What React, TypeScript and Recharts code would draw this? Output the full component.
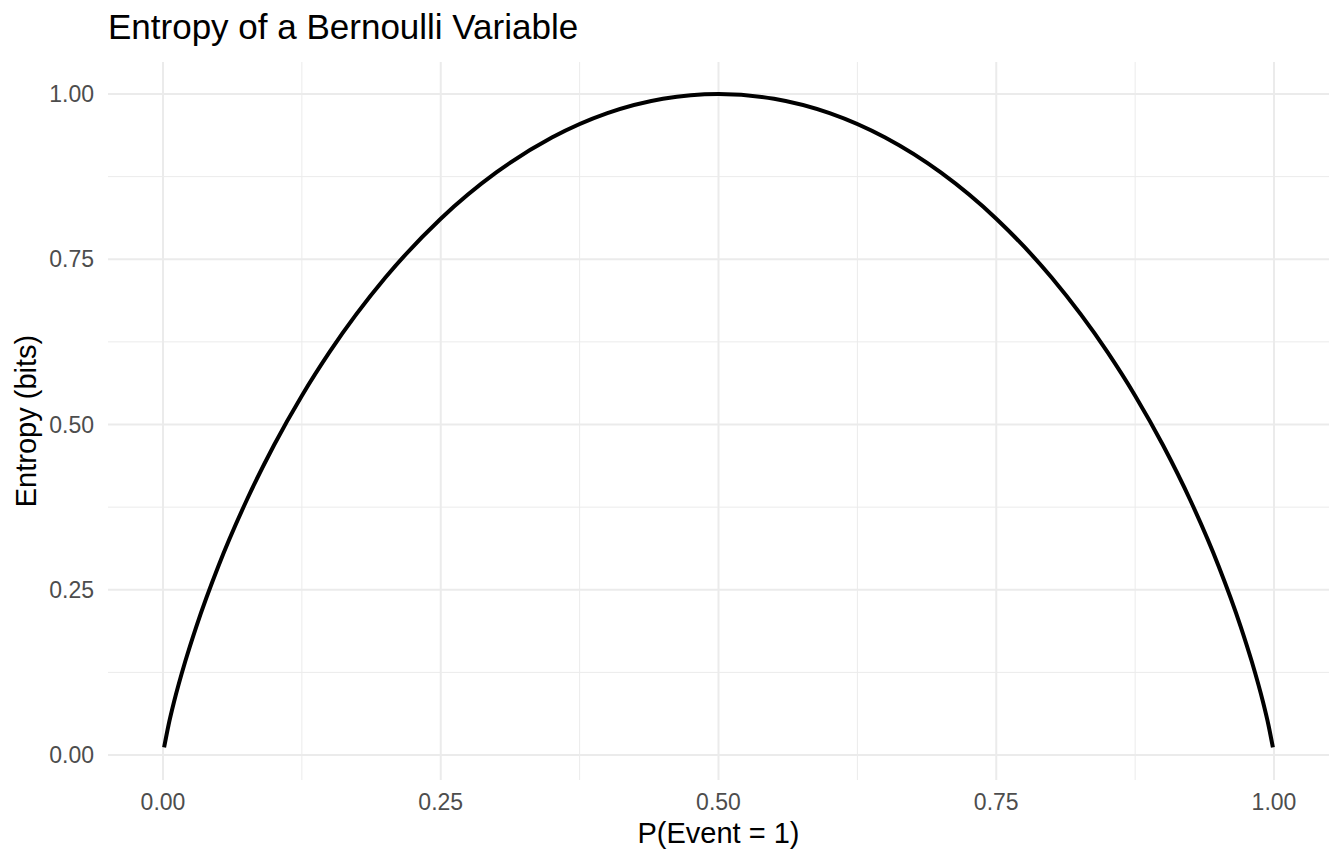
import { LineChart, Line, XAxis, YAxis, ReferenceLine } from "recharts";

// probability of the event (x) and the entropy (y, bits)
const pValues = [
  0.001, 0.005, 0.01, 0.02, 0.03, 0.05, 0.075, 0.1, 0.125, 0.15, 0.2, 0.25,
  0.3, 0.35, 0.4, 0.45, 0.5, 0.55, 0.6, 0.65, 0.7, 0.75, 0.8, 0.85, 0.875,
  0.9, 0.925, 0.95, 0.97, 0.98, 0.99, 0.995, 0.999,
];
const entropyBits = [
  0.0114, 0.0454, 0.0808, 0.1414, 0.1944, 0.2864, 0.3843, 0.469, 0.5436,
  0.6098, 0.7219, 0.8113, 0.8813, 0.9341, 0.971, 0.9928, 1.0, 0.9928, 0.971,
  0.9341, 0.8813, 0.8113, 0.7219, 0.6098, 0.5436, 0.469, 0.3843, 0.2864,
  0.1944, 0.1414, 0.0808, 0.0454, 0.0114,
];
const majorTicks = [0, 0.25, 0.5, 0.75, 1];
const minorTicks = [0.125, 0.375, 0.625, 0.875];

const data = pValues.map((p, i) => ({ p, h: entropyBits[i] }));

const font = "'Liberation Sans', Arial, Helvetica, sans-serif";
const gridColor = "#ebebeb";
const fmt = (v: number) => v.toFixed(2);

export default function App() {
  return (
    <div style={{ position: "absolute", left: 0, top: 0, width: 1344, height: 864, background: "#fff", fontFamily: font }}>
      <div
        style={{
          position: "absolute",
          left: 108,
          top: 9,
          fontSize: 35,
          lineHeight: "35px",
          color: "#000",
          whiteSpace: "nowrap",
        }}
      >
        Entropy of a Bernoulli Variable
      </div>
      <LineChart
        width={1344}
        height={864}
        data={data}
        margin={{ top: 62, right: 15, bottom: 0, left: 0 }}
      >
        {minorTicks.map((t) => (
          <ReferenceLine key={"vx" + t} x={t} stroke={gridColor} strokeWidth={1} />
        ))}
        {minorTicks.map((t) => (
          <ReferenceLine key={"hy" + t} y={t} stroke={gridColor} strokeWidth={1} />
        ))}
        {majorTicks.map((t) => (
          <ReferenceLine key={"VX" + t} x={t} stroke={gridColor} strokeWidth={2} />
        ))}
        {majorTicks.map((t) => (
          <ReferenceLine key={"HY" + t} y={t} stroke={gridColor} strokeWidth={2} />
        ))}
        <XAxis
          dataKey="p"
          type="number"
          domain={[-0.0495, 1.0495]}
          allowDataOverflow
          ticks={majorTicks}
          tickFormatter={fmt}
          axisLine={false}
          tickLine={false}
          tickSize={0}
          tickMargin={14}
          height={84}
          tick={{ fill: "#4d4d4d", fontSize: 23, fontFamily: font }}
          label={{
            value: "P(Event = 1)",
            position: "insideBottom",
            offset: 21,
            fill: "#000",
            fontSize: 29,
            fontFamily: font,
          }}
        />
        <YAxis
          type="number"
          domain={[-0.0378, 1.0484]}
          allowDataOverflow
          ticks={majorTicks}
          tickFormatter={fmt}
          axisLine={false}
          tickLine={false}
          tickSize={0}
          tickMargin={14}
          width={108}
          tick={{ fill: "#4d4d4d", fontSize: 23, fontFamily: font }}
          label={{
            value: "Entropy (bits)",
            angle: -90,
            position: "insideLeft",
            offset: 26,
            fill: "#000",
            fontSize: 29,
            fontFamily: font,
            style: { textAnchor: "middle" },
          }}
        />
        <Line
          type="monotone"
          dataKey="h"
          stroke="#000"
          strokeWidth={4}
          dot={false}
          activeDot={false}
          isAnimationActive={false}
        />
      </LineChart>
    </div>
  );
}
